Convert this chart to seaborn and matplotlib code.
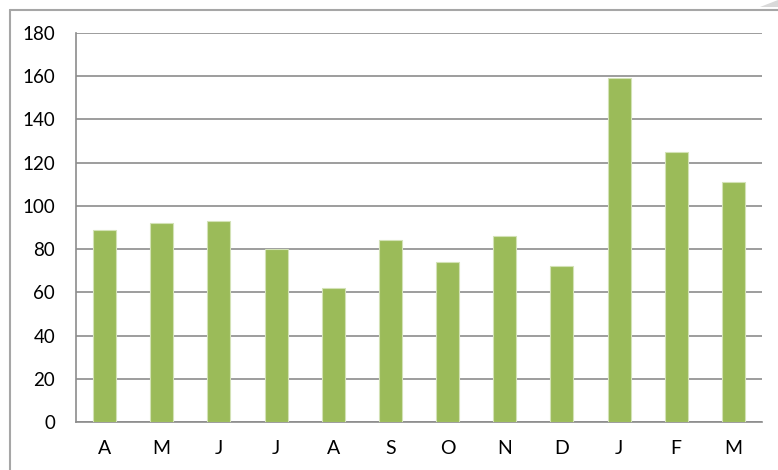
import matplotlib
matplotlib.use("Agg")
import matplotlib.pyplot as plt
from matplotlib.lines import Line2D
from matplotlib.patches import Polygon
import seaborn as sns
import pandas as pd

# Monthly counts, April through March
months = ["A", "M", "J", "J", "A", "S", "O", "N", "D", "J", "F", "M"]
values = [89, 92, 93, 80, 62, 84, 74, 86, 72, 159, 125, 111]
y_ticks = [0, 20, 40, 60, 80, 100, 120, 140, 160, 180]

sns.set_theme(style="white")
plt.rcParams["font.family"] = ["Lato", "DejaVu Sans"]

df = pd.DataFrame({"pos": range(len(months)), "value": values})

fig = plt.figure(figsize=(7.78, 4.70), dpi=100)
ax = fig.add_axes([76 / 778, 1 - 422 / 470, (762 - 76) / 778, (422 - 33) / 470])

sns.barplot(data=df, x="pos", y="value", color="#9BBB59", saturation=1,
            width=0.4, edgecolor="#D3E2B6", linewidth=0.8, ax=ax, zorder=3)

grid_c = "#8C8C8C"
ax.set_ylim(0, 180)
ax.set_xlim(-0.5, len(months) - 0.5)
ax.set_yticks(y_ticks)
ax.set_yticklabels([str(t) for t in y_ticks])
ax.yaxis.grid(True, color=grid_c, linewidth=1.2, zorder=0)
ax.set_axisbelow(True)

ax.set_xticks(range(len(months)))
ax.set_xticklabels(months)
ax.set_xticks([i - 0.5 for i in range(len(months) + 1)], minor=True)
ax.tick_params(axis="x", which="major", length=0, pad=13, labelsize=14, colors="#000000")
ax.tick_params(axis="x", which="minor", length=6, width=1.2, color=grid_c, direction="out")
ax.tick_params(axis="y", which="major", length=6, width=1.2, color=grid_c, direction="out",
               pad=9, labelsize=13.5, labelcolor="#000000")
ax.set_xlabel("")
ax.set_ylabel("")

for side in ["top", "right"]:
    ax.spines[side].set_visible(False)
for side in ["left", "bottom"]:
    ax.spines[side].set_color(grid_c)
    ax.spines[side].set_linewidth(1.2)

# Chart frame (left and top edges) and corner shading
fig.add_artist(Line2D([9.5 / 778, 9.5 / 778], [0, 1 - 9.5 / 470],
                      transform=fig.transFigure, color="#A6A6A6", linewidth=1.5))
fig.add_artist(Line2D([9.5 / 778, 1], [1 - 9.5 / 470, 1 - 9.5 / 470],
                      transform=fig.transFigure, color="#A6A6A6", linewidth=1.5))
fig.add_artist(Polygon([[760 / 778, 1 - 7 / 470], [1, 1 - 7 / 470], [1, 1]],
                       closed=True, transform=fig.transFigure,
                       facecolor="#D9D9D9", edgecolor="none"))

fig.savefig("out.png", dpi=100)
